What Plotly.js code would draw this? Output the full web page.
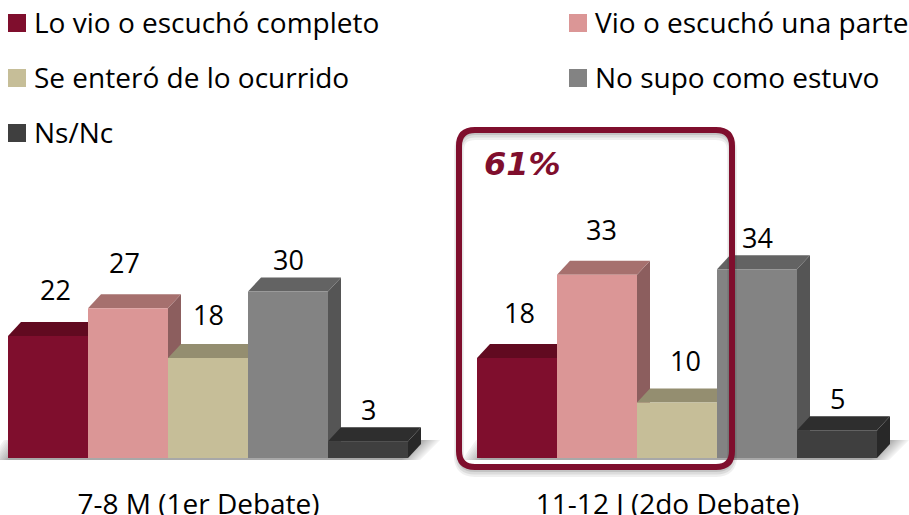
<!DOCTYPE html>
<html>
<head>
<meta charset="utf-8">
<script src="https://cdn.plot.ly/plotly-3.0.1.min.js"></script>
<style>html,body{margin:0;padding:0;background:#fff}#chart{width:909px;height:515px}</style>
</head>
<body>
<div id="chart"></div>
<script>
// ---- data ----
var categories = ['7-8 M (1er Debate)', '11-12 J (2do Debate)'];
var seriesNames = ['Lo vio o escuchó completo', 'Vio o escuchó una parte', 'Se enteró de lo ocurrido', 'No supo como estuvo', 'Ns/Nc'];
var loVio = [22, 18];
var unaParte = [27, 33];
var seEntero = [18, 10];
var noSupo = [30, 34];
var nsNc = [3, 5];
var seriesValues = [loVio, unaParte, seEntero, noSupo, nsNc];
var highlightLabel = '61%';

// ---- styles ----
var frontColors = ['#7F0E2D', '#DB9696', '#C6BE98', '#838383', '#3F3F3F'];
var topColors   = ['#610A20', '#A6706E', '#948E70', '#636363', '#2E2E2E'];
var sideColors  = ['#5A0A20', '#8C5E5E', '#86805F', '#555555', '#282828'];
var FONT = '"Open Sans", sans-serif', FS = 28;

// ---- geometry ----
var W = 909, H = 515, BASE = 458, PX_PER_UNIT = 5.55, CENTER0 = 208, STEP = 469, BAR_PX = 80, DX_PX = 13, DY_PX = 14;
function px(p) { return p / W; }
function py(p) { return 1 - p / BASE; }
var barUnits = BAR_PX / STEP, dx = DX_PX / STEP, dy = DY_PX / PX_PER_UNIT;
var xPositions = categories.map(function (_, i) { return i; });

var traces = seriesNames.map(function (name, s) {
  return { type: 'bar', name: name, x: xPositions, y: seriesValues[s], showlegend: false,
    marker: { color: frontColors[s], line: { width: 0 } }, hoverinfo: 'x+y+name' };
});

var shapes = [];
// floor shadow: nested parallelograms darkening towards the bars
function floor(left, right) {
  var n = 10;
  for (var k = 0; k < n; k++) {
    var g = Math.round(250 - 82 * (k + 1) / n);
    var c = 'rgb(' + g + ',' + g + ',' + g + ')';
    var inset = 2 * k;
    shapes.push({ type: 'path', layer: 'below', xref: 'paper', yref: 'paper', fillcolor: c, line: { width: 0 },
      path: 'M' + px(left + 14 + inset) + ',' + py(440) + ' L' + px(right - inset) + ',' + py(440) + ' L' + px(right - 20 - inset) + ',' + py(460) + ' L' + px(left + inset) + ',' + py(460) + ' Z' });
  }
}
floor(-10, 440);
floor(462, 909);

// 3D faces
categories.forEach(function (_, c) {
  seriesValues.forEach(function (vals, s) {
    var x0 = c + (s - 2.5) * barUnits, x1 = x0 + barUnits, v = vals[c];
    shapes.push({ type: 'path', layer: 'below', xref: 'x', yref: 'y', fillcolor: sideColors[s], line: { width: 0 },
      path: 'M' + x1 + ',0 L' + (x1 + dx) + ',' + dy + ' L' + (x1 + dx) + ',' + (v + dy) + ' L' + x1 + ',' + v + ' Z' });
    shapes.push({ type: 'path', layer: 'below', xref: 'x', yref: 'y', fillcolor: topColors[s], line: { width: 0 },
      path: 'M' + x0 + ',' + v + ' L' + (x0 + dx) + ',' + (v + dy) + ' L' + (x1 + dx) + ',' + (v + dy) + ' L' + x1 + ',' + v + ' Z' });
  });
});

// highlight frame
function roundRect(l, t, r, b, q) {
  return 'M' + px(l + q) + ',' + py(t) + ' L' + px(r - q) + ',' + py(t) + ' Q' + px(r) + ',' + py(t) + ' ' + px(r) + ',' + py(t + q) +
    ' L' + px(r) + ',' + py(b - q) + ' Q' + px(r) + ',' + py(b) + ' ' + px(r - q) + ',' + py(b) +
    ' L' + px(l + q) + ',' + py(b) + ' Q' + px(l) + ',' + py(b) + ' ' + px(l) + ',' + py(b - q) +
    ' L' + px(l) + ',' + py(t + q) + ' Q' + px(l) + ',' + py(t) + ' ' + px(l + q) + ',' + py(t) + ' Z';
}
[[10, 0.06, 5], [7, 0.08, 4], [4, 0.10, 3]].forEach(function (f) {
  shapes.push({ type: 'path', layer: 'above', xref: 'paper', yref: 'paper', opacity: f[1], line: { color: '#000', width: f[0] }, path: roundRect(459, 130 + f[2], 732, 467 + f[2], 16) });
});
shapes.push({ type: 'path', layer: 'above', xref: 'paper', yref: 'paper', line: { color: '#7F0E2D', width: 6 }, path: roundRect(459, 130, 732, 467, 16) });

// legend squares + labels
var legendX = [8, 569, 8, 569, 8], legendY = [14, 14, 69, 69, 124];
var annotations = [];
seriesNames.forEach(function (name, s) {
  shapes.push({ type: 'rect', xref: 'paper', yref: 'paper', layer: 'above', fillcolor: frontColors[s], line: { width: 0 },
    x0: px(legendX[s]), x1: px(legendX[s] + 18), y0: py(legendY[s] + 18), y1: py(legendY[s]) });
  annotations.push({ xref: 'paper', yref: 'paper', x: px(legendX[s] + 24), y: py(legendY[s] + 8), xanchor: 'left', yanchor: 'middle', showarrow: false,
    text: name, font: { family: FONT, size: FS, color: '#000' } });
});

// value labels
var labelDx = [[7, -4, 0, 0, 0], [2, 4, 8, 0, 0]];
var labelDy = [[46, 46, 44, 32, 32], [46, 45, 42, 32, 32]];
categories.forEach(function (_, c) {
  seriesValues.forEach(function (vals, s) {
    annotations.push({ xref: 'x', yref: 'y', x: c + (s - 2) * barUnits, y: vals[c], xshift: labelDx[c][s], yshift: labelDy[c][s], xanchor: 'center', yanchor: 'middle',
      showarrow: false, text: String(vals[c]), font: { family: FONT, size: FS - 1, color: '#000' } });
  });
});

// 61 %
annotations.push({ xref: 'paper', yref: 'paper', x: px(522), y: py(164), xanchor: 'center', yanchor: 'middle', showarrow: false, text: '<b><i>' + highlightLabel + '</i></b>',
  font: { family: 'DejaVu Sans, sans-serif', size: 32, color: '#7F0E2D' } });

var layout = {
  width: W, height: H, margin: { l: 0, r: 0, t: 0, b: H - BASE, pad: 0 },
  paper_bgcolor: '#fff', plot_bgcolor: 'rgba(0,0,0,0)', showlegend: false,
  barmode: 'group', bargap: 1 - 5 * BAR_PX / STEP, bargroupgap: 0,
  xaxis: { range: [-CENTER0 / STEP, (W - CENTER0) / STEP], tickmode: 'array', tickvals: xPositions.map(function (v) { return v - 9.5 / STEP; }), ticktext: categories,
    ticks: '', showgrid: false, zeroline: false, showline: false, ticklabelstandoff: 27, tickfont: { family: FONT, size: FS, color: '#000' }, automargin: false, fixedrange: true },
  yaxis: { range: [0, BASE / PX_PER_UNIT], visible: false, fixedrange: true },
  shapes: shapes, annotations: annotations
};
Plotly.newPlot('chart', traces, layout, { displayModeBar: false, responsive: false });
</script>
</body>
</html>
